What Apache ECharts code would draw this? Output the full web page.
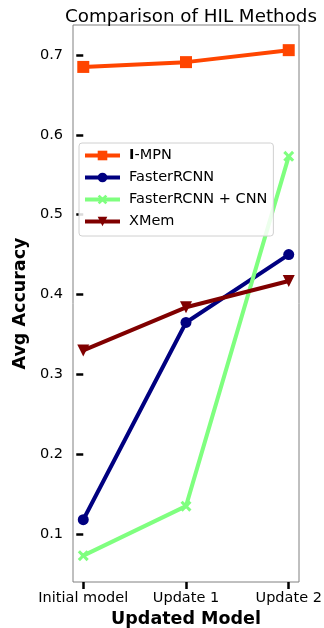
<!DOCTYPE html>
<html>
<head>
<meta charset="utf-8">
<script src="https://cdn.jsdelivr.net/npm/echarts@6/dist/echarts.min.js"></script>
<style>
  html, body { margin: 0; padding: 0; background: #fff; }
  #chart { width: 324px; height: 628px; }
</style>
</head>
<body>
<div id="chart"></div>
<script>
// 各方法在不同更新阶段的平均准确率
const categories = ['Initial model', 'Update 1', 'Update 2'];
const impn = [0.685, 0.691, 0.706];
const fasterRcnn = [0.118, 0.365, 0.450];
const fasterRcnnCnn = [0.073, 0.135, 0.573];
const xmem = [0.330, 0.384, 0.417];
const yTicks = [0.1, 0.2, 0.3, 0.4, 0.5, 0.6, 0.7];

const xPath = 'path://M2,0 L5,3 L8,0 L10,2 L7,5 L10,8 L8,10 L5,7 L2,10 L0,8 L3,5 L0,2 Z';

function toPoints(arr) {
  return arr.map(function (v, i) { return [i, v]; });
}

const chart = echarts.init(document.getElementById('chart'));
const font = 'DejaVu Sans';

const option = {
  animation: false,
  title: {
    text: 'Comparison of HIL Methods',
    left: 186,
    textAlign: 'center',
    top: 3,
    textStyle: { fontFamily: font, fontSize: 18.3, fontWeight: 'normal', color: '#000' }
  },
  legend: {
    left: 79,
    top: 143,
    orient: 'vertical',
    itemWidth: 35,
    itemHeight: 12,
    itemGap: 7,
    padding: [5, 6, 7, 4],
    borderColor: '#d0d0d0',
    borderWidth: 1,
    borderRadius: 3,
    backgroundColor: 'rgba(255,255,255,0.85)',
    lineStyle: { width: 4 },
    textStyle: {
      fontFamily: font, fontSize: 14.5, color: '#000',
      padding: [0, 0, 0, 4],
      rich: { b: { fontFamily: font, fontSize: 14.5, fontWeight: 'bold', color: '#000' } }
    },
    formatter: function (name) {
      if (name === 'I-MPN') { return '{b|I}-MPN'; }
      return name;
    },
    data: ['I-MPN', 'FasterRCNN', 'FasterRCNN + CNN', 'XMem']
  },
  grid: {
    left: 73,
    right: 25,
    top: 25,
    bottom: 46,
    outerBoundsMode: 'none',
    show: true,
    borderColor: '#808080',
    borderWidth: 1
  },
  xAxis: {
    type: 'value',
    min: -0.1,
    max: 2.1,
    name: 'Updated Model',
    nameLocation: 'middle',
    nameGap: 28,
    nameTextStyle: { fontFamily: font, fontSize: 17.5, fontWeight: 'bold', color: '#000' },
    axisLine: { show: false },
    splitLine: { show: false },
    axisTick: {
      show: true,
      length: 7,
      lineStyle: { color: '#000', width: 2.5 },
      customValues: [0, 1, 2]
    },
    axisLabel: {
      fontFamily: font, fontSize: 14.5, color: '#000', margin: 9,
      customValues: [0, 1, 2],
      formatter: function (v) { return categories[Math.round(v)]; }
    }
  },
  yAxis: {
    type: 'value',
    min: 0.04,
    max: 0.7375,
    name: 'Avg Accuracy',
    nameLocation: 'middle',
    nameGap: 38,
    nameTextStyle: { fontFamily: font, fontSize: 17.5, fontWeight: 'bold', color: '#000' },
    axisLine: { show: false },
    splitLine: { show: false },
    axisTick: {
      show: true,
      length: 7,
      lineStyle: { color: '#000', width: 2.5 },
      customValues: yTicks
    },
    axisLabel: {
      fontFamily: font, fontSize: 14.5, color: '#000', margin: 10,
      customValues: yTicks,
      formatter: function (v) { return v.toFixed(1); }
    }
  },
  series: [
    {
      name: 'I-MPN',
      type: 'line',
      data: toPoints(impn),
      symbol: 'rect',
      symbolSize: 12,
      lineStyle: { width: 4, color: '#ff4500' },
      itemStyle: { color: '#ff4500' }
    },
    {
      name: 'FasterRCNN',
      type: 'line',
      data: toPoints(fasterRcnn),
      symbol: 'circle',
      symbolSize: 11,
      lineStyle: { width: 4, color: '#000080' },
      itemStyle: { color: '#000080' }
    },
    {
      name: 'FasterRCNN + CNN',
      type: 'line',
      data: toPoints(fasterRcnnCnn),
      symbol: xPath,
      symbolSize: 11,
      lineStyle: { width: 4, color: '#7fff7f' },
      itemStyle: { color: '#7fff7f' }
    },
    {
      name: 'XMem',
      type: 'line',
      data: toPoints(xmem),
      symbol: 'triangle',
      symbolRotate: 180,
      symbolSize: 12,
      lineStyle: { width: 4, color: '#800000' },
      itemStyle: { color: '#800000' }
    }
  ]
};

chart.setOption(option);
</script>
</body>
</html>
